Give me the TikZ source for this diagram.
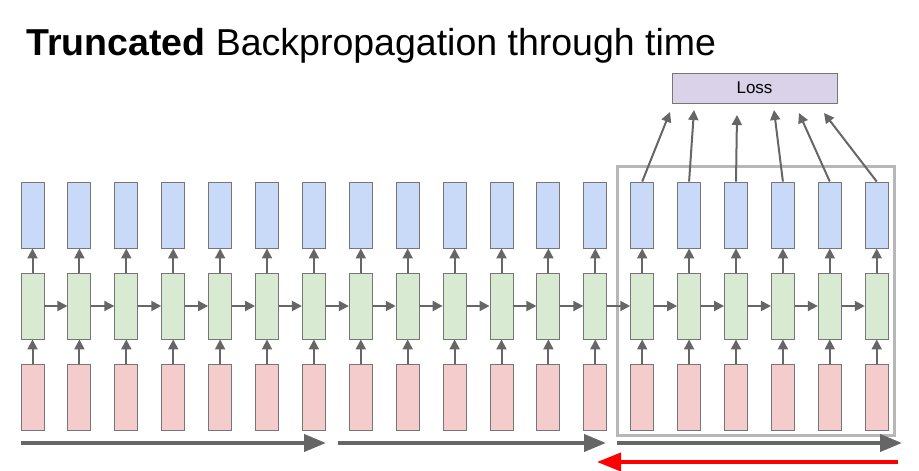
\documentclass[tikz,border=0pt]{standalone}
\usepackage{fontspec}
\setmainfont{Liberation Sans}
\usetikzlibrary{arrows.meta}
\definecolor{bluefill}{HTML}{C9DAF8}
\definecolor{greenfill}{HTML}{D9EAD3}
\definecolor{redfill}{HTML}{F4CCCC}
\definecolor{purplefill}{HTML}{D9D2E9}
\definecolor{boxline}{HTML}{767676}
\definecolor{arrowgray}{HTML}{666666}
\definecolor{framegray}{HTML}{B7B7B7}
\begin{document}
\begin{tikzpicture}[x=1pt,y=-1pt,
  cell/.style={draw=boxline,line width=0.9pt,minimum width=23pt,minimum height=66pt,inner sep=0pt},
  bluecell/.style={cell,fill=bluefill},
  greencell/.style={cell,fill=greenfill},
  redcell/.style={cell,fill=redfill},
  smallarrow/.style={draw=arrowgray,line width=2pt,-{Triangle[length=10pt,width=10pt]}},
  bigarrow/.style={draw=arrowgray,line width=4pt,-{Triangle[length=22pt,width=17pt]}},
  redarrow/.style={draw=red,line width=4pt,-{Triangle[length=24pt,width=18pt]}}]
\useasboundingbox (0,0) rectangle (919,471);
\node[anchor=base west,inner sep=0pt,font=\fontsize{37.5}{40}\selectfont] (title) at (26,55) {\textbf{Truncated} Backpropagation through time};
% frame
\draw[framegray,line width=3pt] (617,166) rectangle (894,435);
\foreach \i in {0,...,18}{
  \pgfmathsetmacro\cx{32.5+46.9*\i}
  \node[bluecell] (b\i) at (\cx,215) {};
  \node[greencell] (g\i) at (\cx,306) {};
  \node[redcell] (r\i) at (\cx,397) {};
  \draw[smallarrow] (r\i.north) -- (g\i.south);
  \draw[smallarrow] (g\i.north) -- (b\i.south);
}
\foreach \i [evaluate=\i as \j using int(\i+1)] in {0,...,17}{
  \draw[smallarrow] (g\i.east) -- (g\j.west);
}
% loss
\node[draw=boxline,line width=0.9pt,fill=purplefill,minimum width=165pt,minimum height=30pt,inner sep=0pt,font=\fontsize{17}{20}\selectfont] (loss) at (754.5,88) {Loss};
\coordinate (t13) at (670,112);
\coordinate (t14) at (694,110);
\coordinate (t15) at (737,115);
\coordinate (t16) at (774,110);
\coordinate (t17) at (799,113);
\coordinate (t18) at (824,113);
\foreach \i in {13,...,18}{
  \draw[smallarrow] (b\i.north) -- (t\i);
}
% time arrows
\coordinate (a1s) at (21,443); \coordinate (a1e) at (326,443);
\coordinate (a2s) at (338,443); \coordinate (a2e) at (606,443);
\coordinate (a3s) at (617,443); \coordinate (a3e) at (902,443);
\coordinate (rs) at (898,462); \coordinate (re) at (597,462);
\draw[bigarrow] (a1s) -- (a1e);
\draw[bigarrow] (a2s) -- (a2e);
\draw[bigarrow] (a3s) -- (a3e);
\draw[redarrow] (rs) -- (re);
\end{tikzpicture}
\end{document}
